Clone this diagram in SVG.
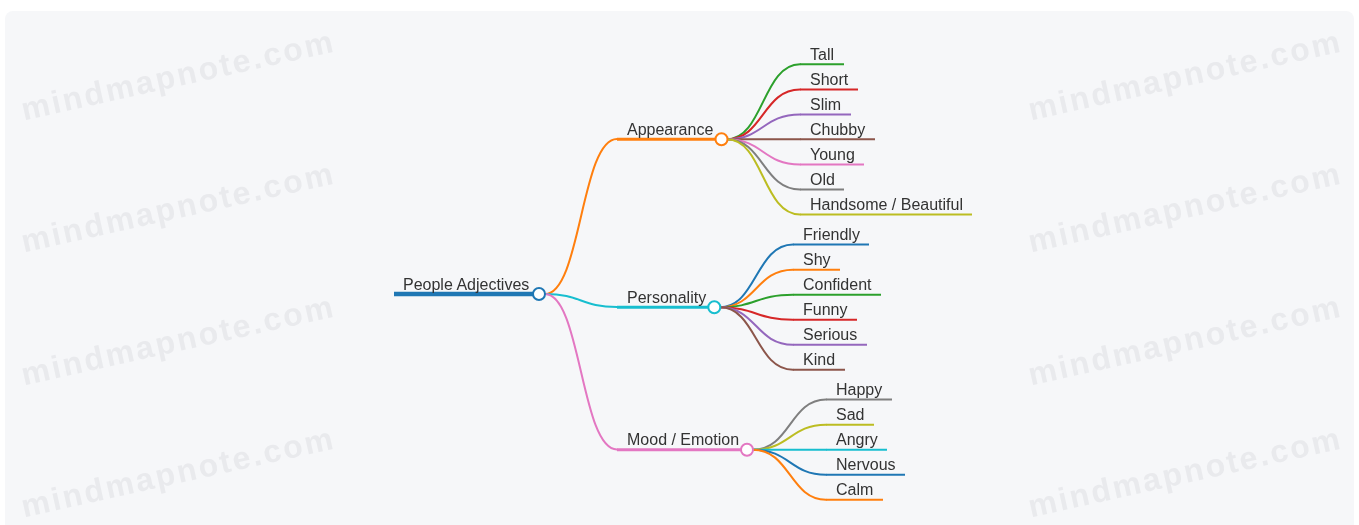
<svg xmlns="http://www.w3.org/2000/svg" width="1359" height="525" viewBox="0 0 1359 525">
<style>
.wm{font-family:"Liberation Sans",Arial,sans-serif;font-weight:bold;font-size:32px;letter-spacing:2.4px;fill:#e9eaed;text-anchor:middle}
.t{font-family:"Liberation Sans",Arial,sans-serif;font-size:16px;fill:#333}
.c{fill:none;stroke-width:2;stroke-linecap:round}
.b{fill:none;stroke-width:3}
.l{fill:none;stroke-width:2}
.dot{fill:#fff;stroke-width:2}
</style>
<defs>
<filter id="soft" x="-5%" y="-20%" width="110%" height="140%"><feGaussianBlur stdDeviation="0.5"/></filter>
</defs>
<rect x="0" y="0" width="1359" height="525" fill="#ffffff"/>
<rect x="5" y="11" width="1349" height="525" rx="8" fill="#f6f7f9"/>
<g id="watermarks" filter="url(#soft)">
<text class="wm" transform="translate(178,75) rotate(-12.5)" y="11">mindmapnote.com</text>
<text class="wm" transform="translate(178,207) rotate(-12.5)" y="11">mindmapnote.com</text>
<text class="wm" transform="translate(178,340) rotate(-12.5)" y="11">mindmapnote.com</text>
<text class="wm" transform="translate(178,472) rotate(-12.5)" y="11">mindmapnote.com</text>
<text class="wm" transform="translate(1185,75) rotate(-12.5)" y="11">mindmapnote.com</text>
<text class="wm" transform="translate(1185,207) rotate(-12.5)" y="11">mindmapnote.com</text>
<text class="wm" transform="translate(1185,340) rotate(-12.5)" y="11">mindmapnote.com</text>
<text class="wm" transform="translate(1185,472) rotate(-12.5)" y="11">mindmapnote.com</text>
</g>
<g id="connectors">
<path class="c" stroke="#ff7f0e" d="M545,294 C581,294 581,139 617,139"/>
<path class="c" stroke="#17becf" d="M545,294 C581,294 581,307 617,307"/>
<path class="c" stroke="#e377c2" d="M545,294 C581,294 581,449.5 617,449.5"/>
<path class="c" stroke="#2ca02c" d="M727,139.3 C763,139.3 763,64.3 800,64.3"/>
<path class="c" stroke="#d62728" d="M727,139.3 C763,139.3 763,89.5 800,89.5"/>
<path class="c" stroke="#9467bd" d="M727,139.3 C763,139.3 763,114.5 800,114.5"/>
<path class="c" stroke="#8c564b" d="M727,139.3 C763,139.3 763,139.3 800,139.3"/>
<path class="c" stroke="#e377c2" d="M727,139.3 C763,139.3 763,164.5 800,164.5"/>
<path class="c" stroke="#7f7f7f" d="M727,139.3 C763,139.3 763,189.5 800,189.5"/>
<path class="c" stroke="#bcbd22" d="M727,139.3 C763,139.3 763,214.5 800,214.5"/>
<path class="c" stroke="#1f77b4" d="M720,307.3 C756,307.3 756,244.5 793,244.5"/>
<path class="c" stroke="#ff7f0e" d="M720,307.3 C756,307.3 756,269.7 793,269.7"/>
<path class="c" stroke="#2ca02c" d="M720,307.3 C756,307.3 756,294.7 793,294.7"/>
<path class="c" stroke="#d62728" d="M720,307.3 C756,307.3 756,319.7 793,319.7"/>
<path class="c" stroke="#9467bd" d="M720,307.3 C756,307.3 756,344.7 793,344.7"/>
<path class="c" stroke="#8c564b" d="M720,307.3 C756,307.3 756,369.7 793,369.7"/>
<path class="c" stroke="#7f7f7f" d="M753,449.7 C790,449.7 790,399.5 826,399.5"/>
<path class="c" stroke="#bcbd22" d="M753,449.7 C790,449.7 790,424.7 826,424.7"/>
<path class="c" stroke="#17becf" d="M753,449.7 C790,449.7 790,449.7 826,449.7"/>
<path class="c" stroke="#1f77b4" d="M753,449.7 C790,449.7 790,474.7 826,474.7"/>
<path class="c" stroke="#ff7f0e" d="M753,449.7 C790,449.7 790,499.7 826,499.7"/>
</g>
<g id="root">
<line x1="394" y1="294" x2="539" y2="294" stroke="#1f77b4" stroke-width="4.5"/>
<text class="t" x="403" y="289.5">People Adjectives</text>
<circle class="dot" cx="539" cy="294" r="6" stroke="#1f77b4"/>
</g>
<g id="appearance">
<line class="b" x1="617" y1="139.3" x2="721.5" y2="139.3" stroke="#ff7f0e"/>
<text class="t" x="627" y="134.5">Appearance</text>
<circle class="dot" cx="721.5" cy="139.3" r="6" stroke="#ff7f0e"/>
</g>
<g id="personality">
<line class="b" x1="617" y1="307.3" x2="714.3" y2="307.3" stroke="#17becf"/>
<text class="t" x="627" y="302.5">Personality</text>
<circle class="dot" cx="714.3" cy="307.3" r="6" stroke="#17becf"/>
</g>
<g id="mood">
<line class="b" x1="617" y1="449.7" x2="747" y2="449.7" stroke="#e377c2"/>
<text class="t" x="627" y="444.8">Mood / Emotion</text>
<circle class="dot" cx="747" cy="449.7" r="6" stroke="#e377c2"/>
</g>
<g id="tall"><line class="l" x1="800" y1="64.3" x2="844" y2="64.3" stroke="#2ca02c"/><text class="t" x="810" y="59.5">Tall</text></g>
<g id="short"><line class="l" x1="800" y1="89.5" x2="858" y2="89.5" stroke="#d62728"/><text class="t" x="810" y="84.7">Short</text></g>
<g id="slim"><line class="l" x1="800" y1="114.5" x2="851" y2="114.5" stroke="#9467bd"/><text class="t" x="810" y="109.7">Slim</text></g>
<g id="chubby"><line class="l" x1="800" y1="139.3" x2="875" y2="139.3" stroke="#8c564b"/><text class="t" x="810" y="134.5">Chubby</text></g>
<g id="young"><line class="l" x1="800" y1="164.5" x2="864" y2="164.5" stroke="#e377c2"/><text class="t" x="810" y="159.7">Young</text></g>
<g id="old"><line class="l" x1="800" y1="189.5" x2="844" y2="189.5" stroke="#7f7f7f"/><text class="t" x="810" y="184.7">Old</text></g>
<g id="handsome"><line class="l" x1="800" y1="214.5" x2="972" y2="214.5" stroke="#bcbd22"/><text class="t" x="810" y="209.7">Handsome / Beautiful</text></g>
<g id="friendly"><line class="l" x1="793" y1="244.5" x2="869" y2="244.5" stroke="#1f77b4"/><text class="t" x="803" y="239.7">Friendly</text></g>
<g id="shy"><line class="l" x1="793" y1="269.7" x2="840" y2="269.7" stroke="#ff7f0e"/><text class="t" x="803" y="264.9">Shy</text></g>
<g id="confident"><line class="l" x1="793" y1="294.7" x2="881" y2="294.7" stroke="#2ca02c"/><text class="t" x="803" y="289.9">Confident</text></g>
<g id="funny"><line class="l" x1="793" y1="319.7" x2="857" y2="319.7" stroke="#d62728"/><text class="t" x="803" y="314.9">Funny</text></g>
<g id="serious"><line class="l" x1="793" y1="344.7" x2="867" y2="344.7" stroke="#9467bd"/><text class="t" x="803" y="339.9">Serious</text></g>
<g id="kind"><line class="l" x1="793" y1="369.7" x2="845" y2="369.7" stroke="#8c564b"/><text class="t" x="803" y="364.9">Kind</text></g>
<g id="happy"><line class="l" x1="826" y1="399.5" x2="892" y2="399.5" stroke="#7f7f7f"/><text class="t" x="836" y="394.7">Happy</text></g>
<g id="sad"><line class="l" x1="826" y1="424.7" x2="874" y2="424.7" stroke="#bcbd22"/><text class="t" x="836" y="419.9">Sad</text></g>
<g id="angry"><line class="l" x1="826" y1="449.7" x2="887" y2="449.7" stroke="#17becf"/><text class="t" x="836" y="444.9">Angry</text></g>
<g id="nervous"><line class="l" x1="826" y1="474.7" x2="905" y2="474.7" stroke="#1f77b4"/><text class="t" x="836" y="469.9">Nervous</text></g>
<g id="calm"><line class="l" x1="826" y1="499.7" x2="883" y2="499.7" stroke="#ff7f0e"/><text class="t" x="836" y="494.9">Calm</text></g>
</svg>
